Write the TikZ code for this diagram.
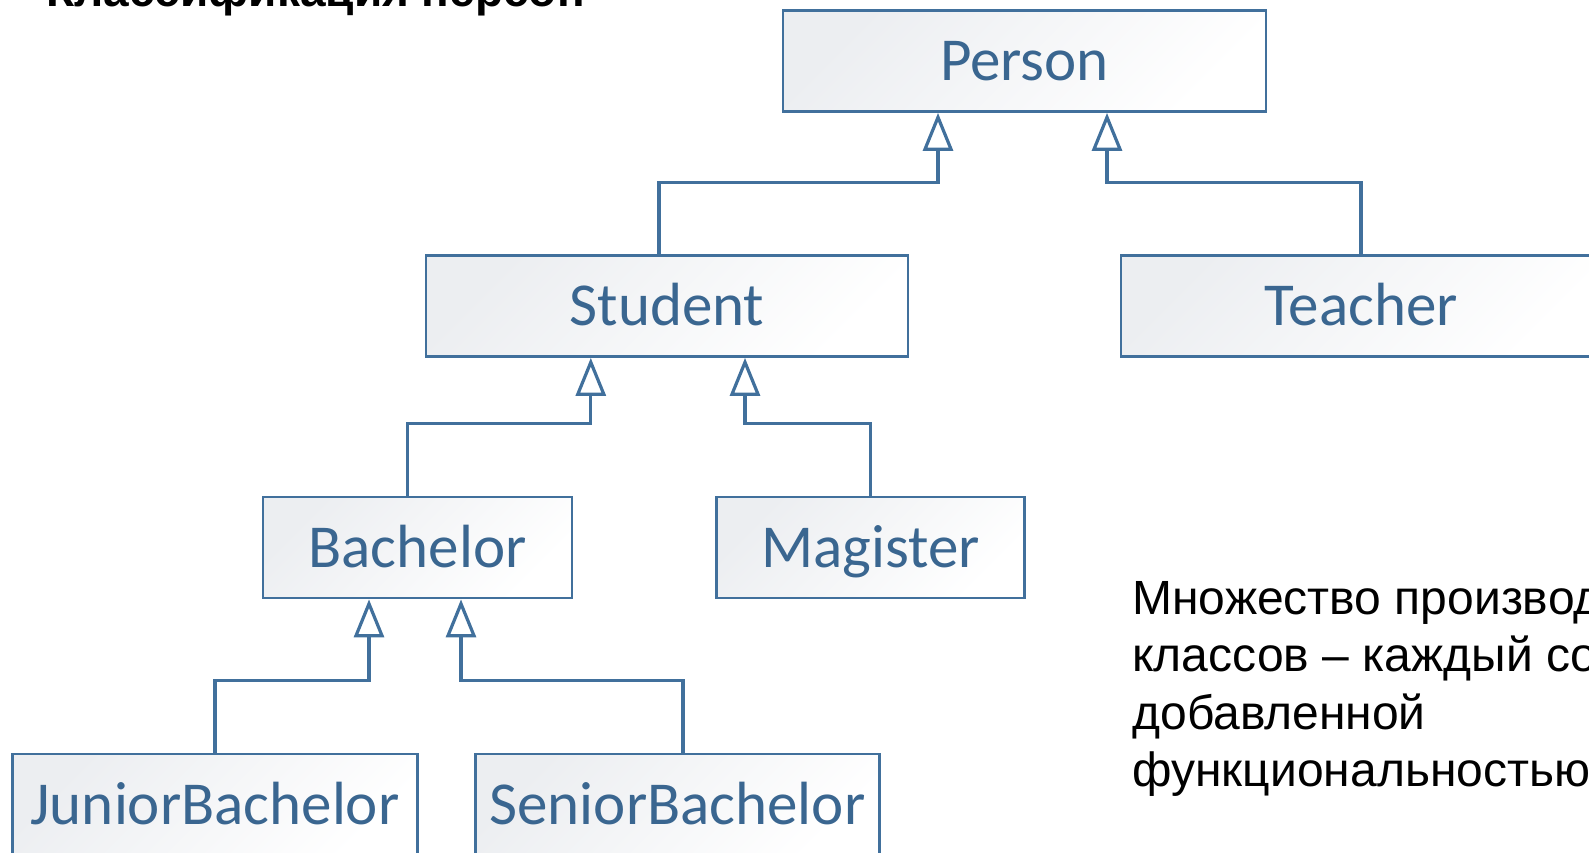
\documentclass[tikz,border=0pt]{standalone}
\usepackage{fontspec}
\setmainfont{Liberation Sans}
\newfontfamily\clsfont{Carlito}
\usetikzlibrary{arrows.meta}
\definecolor{bblue}{HTML}{41709C}
\definecolor{tblue}{HTML}{3A6690}
\definecolor{boxgray}{HTML}{ECEEF1}
\begin{document}
\begin{tikzpicture}[x=0.5pt,y=-0.5pt,
  cls/.style={draw=bblue, line width=1.4pt, left color=boxgray, right color=white, shading angle=45,
    text=tblue, font=\clsfont\fontsize{30.5}{36}\selectfont, minimum height=50.5pt, inner sep=0pt,
    text height=19.5pt, text depth=0pt},
  inh/.style={draw=bblue, line width=1.6pt, -{Triangle[open, length=19pt, width=15pt]}},
  txt/.style={anchor=base west, inner sep=0pt, font=\fontsize{24}{29}\selectfont}]
\useasboundingbox (0,0) rectangle (1589,852);
\clip (0,0) rectangle (1589,852);
\node[anchor=base west, inner sep=0pt, font=\bfseries\fontsize{23}{28}\selectfont] (title) at (46,6) {Классификация персон};
\node[cls, minimum width=241.5pt] (person) at (1024.5,61) {Person};
\node[cls, minimum width=241pt] (student) at (667,306) {Student};
\node[cls, minimum width=240pt] (teacher) at (1361,306) {Teacher};
\node[cls, minimum width=154.5pt] (bachelor) at (417.5,547.5) {Bachelor};
\node[cls, minimum width=154pt] (magister) at (870.5,547.5) {Magister};
\node[cls, minimum width=202.5pt] (junior) at (215,804.5) {JuniorBachelor};
\node[cls, minimum width=202pt] (senior) at (677.5,804.5) {SeniorBachelor};
\draw[inh] ([xshift=-4pt]student.north) -- ++(0,-72) -| ([xshift=-43.25pt]person.south);
\draw[inh] (teacher.north) -- ++(0,-72) -| ([xshift=41.25pt]person.south);
\draw[inh] ([xshift=-5pt]bachelor.north) -- ++(0,-72) -| ([xshift=-38.1pt]student.south);
\draw[inh] (magister.north) -- ++(0,-72) -| ([xshift=39pt]student.south);
\draw[inh] (junior.north) -- ++(0,-72) -| ([xshift=-24.25pt]bachelor.south);
\draw[inh] ([xshift=2.75pt]senior.north) -- ++(0,-72) -| ([xshift=21.75pt]bachelor.south);
\node[txt] (t1) at (1132,614) {Множество производ};
\node[txt] (t2) at (1132,671.5) {классов – каждый со};
\node[txt] (t3) at (1132,729) {добавленной};
\node[txt] (t4) at (1132,786.5) {функциональностью};
\end{tikzpicture}
\end{document}
